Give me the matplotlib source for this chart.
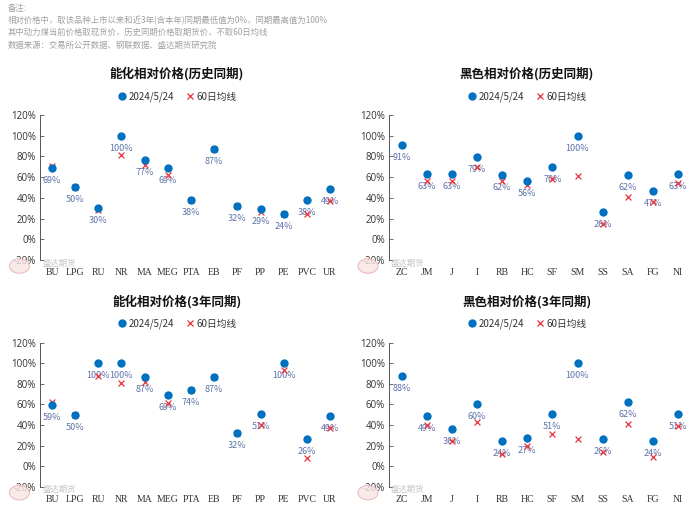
#
# Relative price scatter charts (energy/chemical and ferrous, history vs 3 years).
# Saves out.png
#

import matplotlib
matplotlib.use('Agg')
import matplotlib.pyplot as plt
from matplotlib.patches import Circle
from matplotlib.lines import Line2D

plt.rcParams['font.family'] = ['Noto Sans CJK SC', 'DejaVu Sans']

# energy & chemicals
chem_names = ['BU', 'LPG', 'RU', 'NR', 'MA', 'MEG', 'PTA', 'EB', 'PF', 'PP', 'PE', 'PVC', 'UR']
chem_hist_now = [69, 50, 30, 100, 77, 69, 38, 87, 32, 29, 24, 38, 49]
chem_hist_ma60 = [71, 50, 28, 81, 72, 62, 38, 87, 32, 26, 24, 24, 37]
chem_3y_now = [59, 50, 100, 100, 87, 69, 74, 87, 32, 51, 100, 26, 49]
chem_3y_ma60 = [62, 50, 88, 81, 82, 61, 74, 87, 32, 40, 93, 8, 37]

# ferrous (ZC has no 60-day average)
black_names = ['ZC', 'JM', 'J', 'I', 'RB', 'HC', 'SF', 'SM', 'SS', 'SA', 'FG', 'NI']
black_hist_now = [91, 63, 63, 79, 62, 56, 70, 100, 26, 62, 47, 63]
black_hist_ma60 = [None, 56, 56, 70, 56, 52, 58, 61, 15, 41, 36, 54]
black_3y_now = [88, 49, 36, 60, 24, 27, 51, 100, 26, 62, 24, 51]
black_3y_ma60 = [None, 40, 24, 43, 12, 20, 31, 26, 14, 41, 9, 39]

date_label = '2024/5/24'
ma_label = '60日均线'

notes = ['备注:',
         '相对价格中，取该品种上市以来和近3年(含本年)同期最低值为0%，同期最高值为100%',
         '其中动力煤当前价格取现货价，历史同期价格取期货价，不取60日均线',
         '数据来源：交易所公开数据、钢联数据、盛达期货研究院']

BLUE = '#0070C0'
RED = '#E8323C'
LABEL = '#5E73A8'

W, H = 700, 509
fig = plt.figure(figsize=(7, 5.09), dpi=100)

for i, line in enumerate(notes):
    fig.text(8 / W, 1 - (8 + i * 12.3) / H, line, fontsize=6, color='#a0a0a0',
             va='center', ha='left')


def panel(rect, title, title_x, title_y, legend_y, names, now, ma60):
    left, top, right, bottom = rect
    ax = fig.add_axes([left / W, 1 - bottom / H, (right - left) / W, (bottom - top) / H])
    xs = list(range(len(names)))
    for x, v in zip(xs, now):
        ax.annotate('%d%%' % v, (x, v / 100), xytext=(0, -9), textcoords='offset points',
                    ha='center', va='center', fontsize=6.5, color=LABEL, zorder=3)
    mx = [x for x, v in zip(xs, ma60) if v is not None]
    my = [v / 100 for v in ma60 if v is not None]
    ax.scatter(mx, my, s=18, marker='x', color=RED, linewidths=0.9, zorder=4)
    ax.scatter(xs, [v / 100 for v in now], s=36, color=BLUE, zorder=5, linewidths=0)
    ax.set_xlim(-0.5, len(names) - 0.5)
    ax.set_ylim(-0.2, 1.2)
    ax.set_yticks([-0.2, 0, 0.2, 0.4, 0.6, 0.8, 1.0, 1.2])
    ax.set_yticklabels(['%d%%' % round(t * 100) for t in ax.get_yticks()],
                       fontsize=7, color='#333333', family=['Open Sans', 'DejaVu Sans'])
    ax.set_xticks(xs)
    ax.set_xticklabels(names, fontsize=7, color='#333333', family='Liberation Serif')
    ax.tick_params(axis='x', length=0, pad=6)
    ax.tick_params(axis='y', direction='in', length=3, width=0.6, color='#555555', pad=3)
    for s in ['top', 'right', 'bottom']:
        ax.spines[s].set_visible(False)
    ax.spines['left'].set_color('#555555')
    ax.spines['left'].set_linewidth(0.7)
    ax.patch.set_alpha(0)

    fig.text(title_x / W, 1 - title_y / H, title, fontsize=9, fontweight='bold',
             ha='center', va='center', color='#111111')
    handles = [Line2D([], [], marker='o', linestyle='none', color=BLUE, markersize=5),
               Line2D([], [], marker='x', linestyle='none', color=RED, markersize=4,
                      markeredgewidth=0.9)]
    fig.legend(handles, [date_label, ma_label], loc='center',
               bbox_to_anchor=(title_x / W, 1 - legend_y / H), ncol=2, frameon=False,
               fontsize=7, handletextpad=0.1, columnspacing=1.2, handlelength=1.0,
               labelcolor='#333333')

    # watermark
    wx, wy = left - 21, bottom + 6
    fig.patches.append(Circle((wx / W, 1 - wy / H), 10 / W, transform=fig.transFigure,
                              facecolor='#f8e4e4', edgecolor='#e8b0b0', linewidth=0.8,
                              alpha=0.8, zorder=0))
    fig.text((left + 2) / W, 1 - (bottom + 3) / H, '盛达期货', fontsize=6,
             color='#b5b5b5', ha='left', va='center', alpha=0.8)


panel((40.4, 115, 341.6, 260), '能化相对价格(历史同期)', 177, 74, 97,
      chem_names, chem_hist_now, chem_hist_ma60)
panel((389, 115, 690.6, 260), '黑色相对价格(历史同期)', 527, 74, 97,
      black_names, black_hist_now, black_hist_ma60)
panel((40.4, 342.7, 341.6, 486.7), '能化相对价格(3年同期)', 177, 302, 324,
      chem_names, chem_3y_now, chem_3y_ma60)
panel((389, 342.7, 690.6, 486.7), '黑色相对价格(3年同期)', 527, 302, 324,
      black_names, black_3y_now, black_3y_ma60)

fig.savefig('out.png', dpi=100)
